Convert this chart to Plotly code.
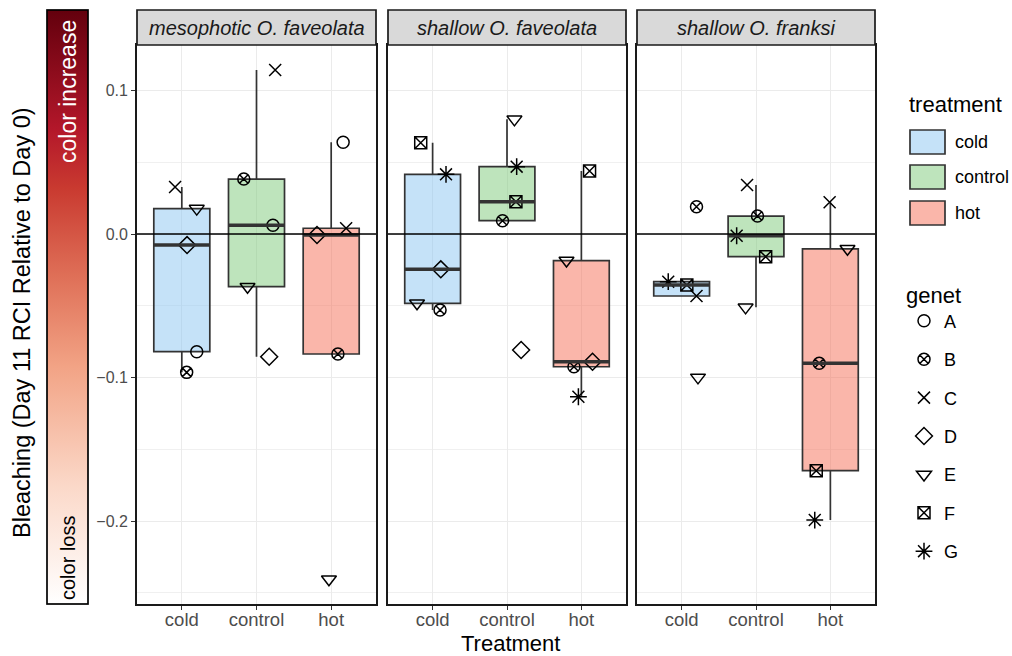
import numpy as np
import plotly.graph_objects as go

# ---------------- data ----------------
treatments = ["cold", "control", "hot"]
panel_titles = ["mesophotic O. faveolata", "shallow O. faveolata", "shallow O. franksi"]
genet_order = ["A", "B", "C", "D", "E", "F", "G"]

meso_genets = ["A", "B", "C", "D", "E"]
meso_cold = [-0.0820, -0.0964, 0.0328, -0.0077, 0.0177]
meso_control = [0.0061, 0.0383, 0.1143, -0.0855, -0.0367]
meso_hot = [0.0639, -0.0836, 0.0040, -0.0007, -0.2406]

shalfav_genets = ["B", "D", "E", "F", "G"]
shalfav_cold = [-0.0530, -0.0246, -0.0483, 0.0636, 0.0416]
shalfav_control = [0.0093, -0.0808, 0.0799, 0.0225, 0.0469]
shalfav_hot = [-0.0925, -0.0890, -0.0185, 0.0439, -0.1134]

franksi_genets = ["B", "C", "E", "F", "G"]
franksi_cold = [0.0190, -0.0432, -0.0999, -0.0355, -0.0332]
franksi_control = [0.0125, 0.0341, -0.0511, -0.0158, -0.0012]
franksi_hot = [-0.0901, 0.0221, -0.0103, -0.1649, -0.1993]

y_tickvals = [-0.2, -0.1, 0.0, 0.1]
y_ticktext = ["\u22120.2", "\u22120.1", "0.0", "0.1"]

# horizontal jitter of the points (visual only)
meso_jit = [[0.20, 0.065, -0.09, 0.07, 0.20], [0.22, -0.17, 0.25, 0.17, -0.12], [0.16, 0.09, 0.20, -0.19, -0.03]]
shalfav_jit = [[0.10, 0.11, -0.21, -0.16, 0.18], [-0.06, 0.19, 0.10, 0.12, 0.13], [-0.10, 0.15, -0.20, 0.11, -0.04]]
franksi_jit = [[0.20, 0.20, 0.22, 0.07, -0.18], [0.02, -0.12, -0.14, 0.13, -0.26], [-0.15, -0.01, 0.23, -0.19, -0.21]]

# ---------------- styles ----------------
FONT = "Liberation Sans, Arial, Helvetica, sans-serif"
W, H = 1012, 656
fills = {"cold": "rgba(139,197,241,0.5)", "control": "rgba(125,201,121,0.5)", "hot": "rgba(245,109,85,0.5)"}
legend_fills = {"cold": "rgb(197,226,248)", "control": "rgb(190,228,188)", "hot": "rgb(250,182,170)"}
symbols = {"A": "circle-open", "B": "circle-x-open", "C": "x-thin-open", "D": "diamond-open",
           "E": "triangle-down-open", "F": "square-x-open", "G": "asterisk-open"}
sizes = {"A": 12, "B": 12, "C": 12, "D": 13, "E": 13, "F": 12, "G": 14}
LINE = "#333333"

panel_px = [(137, 376), (388, 626), (637, 875)]
top_px, bot_px, strip_top = 45, 604, 10
def px(x): return x / W
def py(y): return 1 - y / H

panels = [
    (meso_genets, [meso_cold, meso_control, meso_hot], meso_jit),
    (shalfav_genets, [shalfav_cold, shalfav_control, shalfav_hot], shalfav_jit),
    (franksi_genets, [franksi_cold, franksi_control, franksi_hot], franksi_jit),
]

def box_stats(vals):
    v = np.sort(np.asarray(vals, dtype=float))
    q1, med, q3 = np.percentile(v, [25, 50, 75])
    iqr = q3 - q1
    lo = v[v >= q1 - 1.5 * iqr].min()
    hi = v[v <= q3 + 1.5 * iqr].max()
    return q1, med, q3, lo, hi

def note(text, x, y, size, color="black", angle=0, xanchor="center", style="normal"):
    return dict(text=text, xref="paper", yref="paper", x=px(x), y=py(y), textangle=angle,
                xanchor=xanchor, yanchor="middle", showarrow=False,
                font=dict(family=FONT, size=size, color=color, style=style))

fig = go.Figure()
shapes = []
annotations = []
seen = set()
BOXW = 0.75

for p, (genets, groups, jits) in enumerate(panels):
    xa = "x" if p == 0 else f"x{p+1}"
    ya = "y" if p == 0 else f"y{p+1}"
    for i, (tr, vals) in enumerate(zip(treatments, groups)):
        q1, med, q3, lo, hi = box_stats(vals)
        fig.add_trace(go.Box(
            x=[i], q1=[q1], median=[med], q3=[q3], lowerfence=[lo], upperfence=[hi],
            width=BOXW, fillcolor=fills[tr], line=dict(color=LINE, width=1.7),
            whiskerwidth=0, boxpoints=False, showlegend=False, xaxis=xa, yaxis=ya,
            hoverinfo="y"))
        shapes.append(dict(type="line", xref=xa, yref=ya, x0=i - BOXW / 2, x1=i + BOXW / 2,
                           y0=med, y1=med, line=dict(color=LINE, width=3.4), layer="above"))
    shapes.append(dict(type="line", xref=f"{xa} domain", yref=ya, x0=0, x1=1, y0=0, y1=0,
                       line=dict(color="black", width=1.5), layer="above"))
    for gi, g in enumerate(genets):
        xs = [i + jits[i][gi] for i in range(3)]
        ys = [groups[i][gi] for i in range(3)]
        show = g not in seen
        seen.add(g)
        fig.add_trace(go.Scatter(
            x=xs, y=ys, mode="markers", name=g, legendgroup=g, showlegend=show,
            legendrank=genet_order.index(g) + 1,
            marker=dict(symbol=symbols[g], size=sizes[g], color="black",
                        line=dict(color="black", width=1.5)),
            xaxis=xa, yaxis=ya, hoverinfo="y"))
    x0, x1 = panel_px[p]
    shapes.append(dict(type="rect", xref="paper", yref="paper", x0=px(x0), x1=px(x1),
                       y0=py(top_px), y1=py(strip_top), fillcolor="#D9D9D9",
                       line=dict(color="#1a1a1a", width=1.7), layer="above"))
    annotations.append(note(panel_titles[p], (x0 + x1) / 2, (strip_top + top_px) / 2 + 0.5,
                            20, color="#1a1a1a", style="italic"))

# colour bar (bleaching scale)
reds = [[0.0, "#FFFFFF"], [0.2, "#FBD8C8"], [0.4, "#F2A385"], [0.55, "#DF7058"],
        [0.7, "#C93A30"], [0.8, "#B3172A"], [1.0, "#63000D"]]
fig.add_trace(go.Scatter(
    x=[None], y=[None], mode="markers", showlegend=False, hoverinfo="skip",
    marker=dict(color=[0, 1], cmin=0, cmax=1, colorscale=reds, showscale=True,
                colorbar=dict(x=px(47), xanchor="left", y=py(bot_px), yanchor="bottom",
                              len=(bot_px - strip_top) / H, lenmode="fraction",
                              thickness=41, thicknessmode="pixels",
                              outlinewidth=1.7, outlinecolor="black",
                              showticklabels=False, ticks="", xpad=0, ypad=0)),
    xaxis="x", yaxis="y"))

annotations += [
    note("color increase", 68, 92, 23, color="white", angle=-90),
    note("color loss", 68, 558, 20, angle=-90),
    note("Bleaching (Day 11 RCI Relative to Day 0)", 22, 323, 23.5, angle=-90),
    note("Treatment", 511, 643, 22),
    note("treatment", 907, 104, 22, xanchor="left"),
]

key_centers = [142, 177, 213]
for tr, cy in zip(treatments, key_centers):
    shapes.append(dict(type="rect", xref="paper", yref="paper", x0=px(910), x1=px(945),
                       y0=py(cy + 12), y1=py(cy - 12), fillcolor=legend_fills[tr],
                       line=dict(color=LINE, width=1.7)))
    annotations.append(note(tr, 953, cy, 18, xanchor="left"))

axis_common = dict(range=[-0.6, 2.6], tickvals=[0, 1, 2], ticktext=treatments,
                   showgrid=True, gridcolor="#EBEBEB", gridwidth=1.2, zeroline=False,
                   showline=True, mirror=True, linecolor="#1a1a1a", linewidth=1.7,
                   ticks="outside", ticklen=4, tickcolor="#333333", tickwidth=1.2,
                   ticklabelstandoff=-6,
                   tickfont=dict(family=FONT, size=18.5, color="#4D4D4D"), fixedrange=True)
yaxis_common = dict(range=[-0.2578, 0.1317], domain=[py(bot_px), py(top_px)],
                    tickvals=y_tickvals, ticktext=y_ticktext,
                    showgrid=True, gridcolor="#EBEBEB", gridwidth=1.2, zeroline=False,
                    minor=dict(dtick=0.05, tick0=0, showgrid=True, gridcolor="#F0F0F0",
                               gridwidth=0.8, ticks=""),
                    showline=True, mirror=True, linecolor="#1a1a1a", linewidth=1.7,
                    fixedrange=True)

layout = dict(
    width=W, height=H, margin=dict(l=0, r=0, t=0, b=0),
    paper_bgcolor="white", plot_bgcolor="white", boxmode="overlay",
    font=dict(family=FONT, color="black"),
    shapes=shapes, annotations=annotations,
    legend=dict(title=dict(text="genet", font=dict(family=FONT, size=22, color="black")),
                x=px(904), xanchor="left", y=py(274), yanchor="top",
                font=dict(family=FONT, size=18, color="black"),
                tracegroupgap=12, bgcolor="rgba(0,0,0,0)", itemsizing="trace"),
)
for p in range(3):
    xk = "xaxis" if p == 0 else f"xaxis{p+1}"
    yk = "yaxis" if p == 0 else f"yaxis{p+1}"
    ya = "y" if p == 0 else f"y{p+1}"
    xa = "x" if p == 0 else f"x{p+1}"
    layout[xk] = dict(axis_common, domain=[px(panel_px[p][0]), px(panel_px[p][1])], anchor=ya)
    yd = dict(yaxis_common, anchor=xa)
    if p == 0:
        yd.update(ticks="outside", ticklen=4, tickcolor="#333333", tickwidth=1.2,
                  tickfont=dict(family=FONT, size=16, color="#4D4D4D"))
    else:
        yd.update(showticklabels=False, ticks="", matches="y")
    layout[yk] = yd

fig.update_layout(**layout)
fig.write_html("out.html")
